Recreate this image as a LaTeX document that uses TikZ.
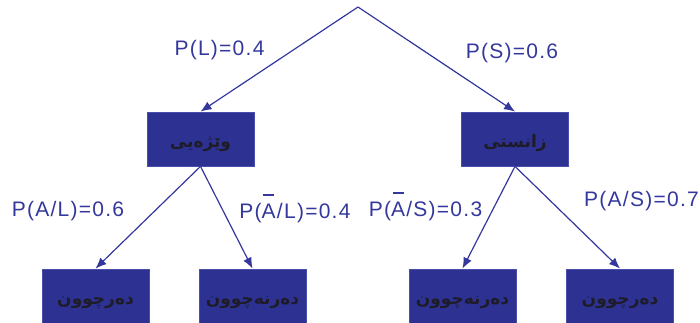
\documentclass[tikz,border=0pt]{standalone}
\usepackage{fontspec}
\usetikzlibrary{arrows.meta}
\TeXXeTstate=1
\newfontfamily\labfont[LetterSpace=6]{Liberation Sans}
\newfontfamily\arabicfont[Script=Arabic]{DejaVu Sans}
\definecolor{boxblue}{RGB}{45,49,146}
\definecolor{boxedge}{RGB}{72,78,170}
\definecolor{linkblue}{RGB}{52,56,156}
\definecolor{inktext}{RGB}{30,28,40}
% A with a short bar floating above it
\newcommand{\barA}{\rlap{\hspace{0.08em}\raisebox{1.08em}[0pt][0pt]{\rule{0.52em}{0.06em}}}A}
\tikzset{
  probbox/.style={draw=boxedge, fill=boxblue, line width=0.8pt,
    minimum width=107pt, minimum height=54pt, inner sep=0pt,
    text height=16pt, text depth=0pt,
    font=\arabicfont\bfseries\fontsize{17}{20}\selectfont, text=inktext},
  link/.style={draw=linkblue, line width=1.2pt,
    -{Latex[length=11pt,width=9pt]}},
  prob/.style={font=\labfont\fontsize{21}{24}\selectfont, text=linkblue, inner sep=0pt}
}
\begin{document}
\begin{tikzpicture}[x=1pt,y=-1pt]
\useasboundingbox (0,0) rectangle (700,323);
\coordinate (root) at (358,7);
% first level
\node[probbox] (lit) at (200.5,139) {\beginR وێژەیی\endR};
\node[probbox] (sci) at (515,139) {\beginR زانستی\endR};
% second level
\node[probbox] (litpass) at (95.5,296) {\beginR دەرچوون\endR};
\node[probbox] (litfail) at (252.5,296) {\beginR دەرنەچوون\endR};
\node[probbox] (scifail) at (462.5,296) {\beginR دەرنەچوون\endR};
\node[probbox] (scipass) at (620,296) {\beginR دەرچوون\endR};
% branches
\draw[link] (root) -- (lit.north);
\draw[link] (root) -- (sci.north);
\draw[link] (lit.south) -- (litpass.north);
\draw[link] (lit.south) -- (litfail.north);
\draw[link] (sci.south) -- (scifail.north);
\draw[link] (sci.south) -- (scipass.north);
% branch probabilities
\node[prob] (pl) at (219.5,50) {P(L)=0.4};
\node[prob] (ps) at (512,53) {P(S)=0.6};
\node[prob] (pal) at (68,211) {P(A/L)=0.6};
\node[prob] (pnal) at (295,213) {P(\barA/L)=0.4};
\node[prob] (pnas) at (425.5,211) {P(\barA/S)=0.3};
\node[prob] (pas) at (641.5,201.5) {P(A/S)=0.7};
\end{tikzpicture}
\end{document}
